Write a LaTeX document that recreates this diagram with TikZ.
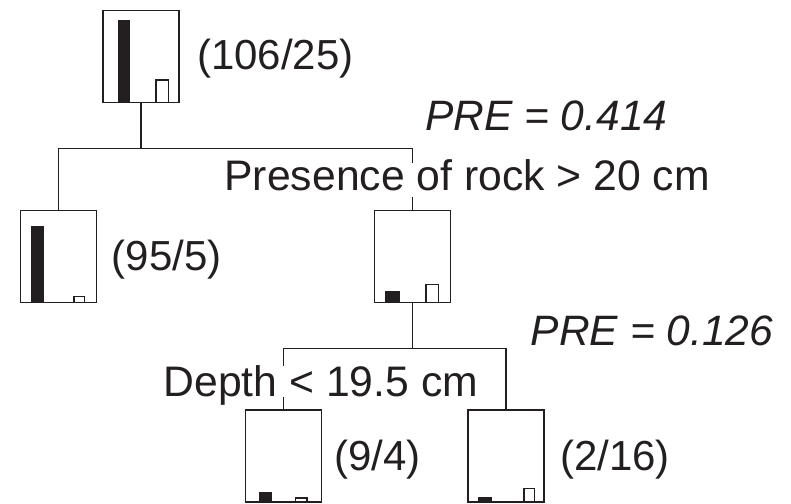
\documentclass[tikz,border=0pt]{standalone}
\usepackage{fontspec}
\setmainfont{Liberation Sans}
\definecolor{ink}{HTML}{231F20}
\tikzset{
  box/.style={draw=ink, line width=1.5pt, minimum width=76pt, minimum height=92pt, inner sep=0pt},
  conn/.style={draw=ink, line width=1.5pt},
  blackbar/.style={fill=ink, draw=ink, line width=0.8pt},
  whitebar/.style={fill=white, draw=ink, line width=1.3pt},
  lbl/.style={text=ink, font=\fontsize{42}{50}\selectfont, anchor=base west, inner sep=0pt},
  biglbl/.style={lbl, font=\fontsize{42.7}{50}\selectfont},
  prelbl/.style={lbl, font=\fontsize{42.5}{50}\selectfont\itshape},
  splitlbl/.style={biglbl, fill=white}
}
\begin{document}
\begin{tikzpicture}[x=1pt,y=-1pt]
\useasboundingbox (0,0) rectangle (791,503);
% boxes
\node[box] (root) at (141,56.5) {};
\node[box] (left) at (58.3,256.3) {};
\node[box] (mid) at (412.3,256.3) {};
\node[box] (bl) at (283.3,456) {};
\node[box] (br) at (506,456) {};
% connectors
\coordinate (j1) at (141,148.3);
\draw[conn] (root.south) -- (j1);
\draw[conn] (left.north) -- (left.north |- j1) -- (mid.north |- j1) -- (mid.north);
\coordinate (j2) at (412.3,348.3);
\draw[conn] (mid.south) -- (j2);
\draw[conn] (bl.north) -- (bl.north |- j2) -- (br.north |- j2) -- (br.north);
% bars
\draw[blackbar] (118,102.5) rectangle (129,20);
\draw[whitebar] (156,102.5) rectangle (168.5,80);
\draw[blackbar] (31.7,302.3) rectangle (43,226);
\draw[whitebar] (74,302.3) rectangle (84.7,296.7);
\draw[blackbar] (385.7,302.3) rectangle (399.3,291.7);
\draw[whitebar] (426,302.3) rectangle (438.7,284.7);
\draw[blackbar] (259.3,502) rectangle (271.3,492);
\draw[whitebar] (295.7,502) rectangle (307,498);
\draw[blackbar] (478,502) rectangle (491.3,497.7);
\draw[whitebar] (524,502) rectangle (534.7,488.3);
% labels
\node[lbl] (n1) at (197,70) {(106/25)};
\node[lbl] (n2) at (111.7,270) {(95/5)};
\node[lbl] (n3) at (334.3,470) {(9/4)};
\node[lbl] (n4) at (560,470) {(2/16)};
\node[prelbl] (p1) at (425,130) {PRE = 0.414};
\node[prelbl] (p2) at (530.7,345) {PRE = 0.126};
\node[splitlbl, text height=28pt, text depth=6pt] (s1) at (224.3,190.7) {Presence of rock > 20 cm};
\node[splitlbl, text height=31pt, text depth=0pt] (s2) at (163.3,396.7) {Depth < 19.5 cm};
\end{tikzpicture}
\end{document}
